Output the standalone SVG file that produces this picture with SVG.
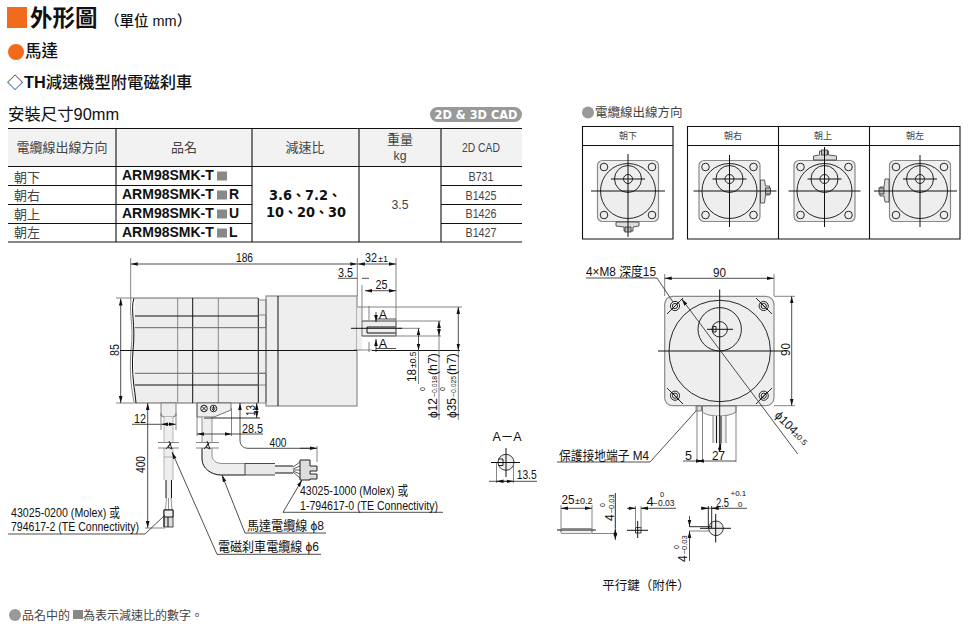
<svg xmlns="http://www.w3.org/2000/svg" width="971" height="629" viewBox="0 0 971 629">
<style>
text{font-family:"Liberation Sans","Noto Sans CJK TC",sans-serif;fill:#111}
.g{fill:#444}
.d{font-size:13px}
.t{font-size:12.500px;text-anchor:middle}
.b{font-weight:700}
.l{fill:none;stroke:#111;stroke-width:1}
.e{fill:none;stroke:#777;stroke-width:.9}
.h{fill:none;stroke:#111;stroke-width:.9}
.dim{fill:none;stroke:#222;stroke-width:.8;marker-start:url(#a);marker-end:url(#a)}
.lead{fill:none;stroke:#222;stroke-width:.8;marker-end:url(#a)}
.f{fill:#eee;stroke:#8a8a8a;stroke-width:1.2}
.c{fill:none;stroke:#111;stroke-width:.9}
.sq{fill:#888}
.tb{fill:none;stroke:#111;stroke-width:1.1}
</style>
<defs>
<marker id="a" markerUnits="userSpaceOnUse" markerWidth="7" markerHeight="5" refX="7" refY="2.5" orient="auto-start-reverse"><path d="M0 .7L7 2.5L0 4.3z" fill="#111"/></marker>
<g id="face">
<rect x="-30.5" y="-30.5" width="61" height="61" rx="5" class="f"/>
<circle r="27.5" class="c"/><circle cy="-12" r="13.5" class="c"/><circle cy="-12" r="4.5" class="c"/>
<circle cx="-24" cy="-24" r="3.8" class="c"/><circle cx="24" cy="-24" r="3.8" class="c"/><circle cx="-24" cy="24" r="3.8" class="c"/><circle cx="24" cy="24" r="3.8" class="c"/>
<path d="M-17-12H17" class="l"/>
</g>
<g id="plug">
<path d="M-12 31H11V35L5 36V40H-4V36L-12 35z" fill="#ddd" stroke="#333" stroke-width=".8"/>
<rect x="-3" y="36" width="6" height="5" fill="#bbb" stroke="#333" stroke-width=".8"/>
</g>
</defs>
<rect width="971" height="629" fill="#fff"/>

<g id="heading">
<rect x="7" y="7" width="20" height="21" fill="#f26a1b"/>
<text x="30" y="26" style="font-size:22.500px;font-weight:700">外形圖</text>
<text x="105" y="26" style="font-size:14.500px;font-weight:500">（單位 mm）</text>
<circle cx="16" cy="52" r="8" fill="#f26a1b"/>
<text x="25" y="57" style="font-size:16.500px;font-weight:500">馬達</text>
<text x="7" y="88" style="font-size:16px">◇</text>
<text x="24" y="88" style="font-size:16.300px;font-weight:700">TH<tspan style="font-weight:500">減速機型附電磁刹車</tspan></text>
<text x="8" y="120" style="font-size:16.400px">安裝尺寸90mm</text>
<rect x="430" y="107" width="92" height="15" rx="7.5" fill="#999"/>
<text x="476" y="119" text-anchor="middle" textLength="83" lengthAdjust="spacingAndGlyphs" style="font-family:'DejaVu Sans',sans-serif;font-size:12px;font-weight:700;fill:#fff">2D &amp; 3D CAD</text>
</g>

<g id="spec-table">
<rect x="8" y="128.500" width="514" height="38" fill="#f2f2f2"/>
<path class="tb" d="M8 128.500H522M8 166.500H522M8 185.500H252M8 204.500H252M8 223.500H252M8 242H522M441 185.500H522M441 204.500H522M441 223.500H522M116 128.500V242M252 128.500V242M359 128.500V242M441 128.500V242"/>
<text class="g" x="62" y="152" text-anchor="middle" style="font-size:13px">電纜線出線方向</text>
<text class="g" x="184" y="152" text-anchor="middle" style="font-size:13px">品名</text>
<text class="g" x="305" y="152" text-anchor="middle" style="font-size:13px">減速比</text>
<text class="g" x="400" y="144" text-anchor="middle" style="font-size:13px">重量</text>
<text class="g" x="400" y="160" text-anchor="middle" style="font-size:13px" textLength="13" lengthAdjust="spacingAndGlyphs">kg</text>
<text class="g" x="481" y="152" text-anchor="middle" textLength="38" lengthAdjust="spacingAndGlyphs" style="font-size:13.500px">2D CAD</text>
<text class="g" x="14" y="181.500" style="font-size:13px">朝下</text>
<text class="g" x="14" y="200" style="font-size:13px">朝右</text>
<text class="g" x="14" y="218.500" style="font-size:13px">朝上</text>
<text class="g" x="14" y="237" style="font-size:13px">朝左</text>
<text x="122" y="180" class="b" style="font-size:14px">ARM98SMK-T</text>
<rect x="217" y="171.500" width="10" height="9" class="sq"/>
<text x="122" y="199" class="b" style="font-size:14px">ARM98SMK-T</text>
<rect x="217" y="190.500" width="10" height="9" class="sq"/>
<text x="229" y="199" class="b" style="font-size:14px">R</text>
<text x="122" y="218" class="b" style="font-size:14px">ARM98SMK-T</text>
<rect x="217" y="209.500" width="10" height="9" class="sq"/>
<text x="229" y="218" class="b" style="font-size:14px">U</text>
<text x="122" y="237" class="b" style="font-size:14px">ARM98SMK-T</text>
<rect x="217" y="228.500" width="10" height="9" class="sq"/>
<text x="229" y="237" class="b" style="font-size:14px">L</text>
<text x="305" y="200" text-anchor="middle" style="font-family:'DejaVu Sans','Noto Sans CJK TC',sans-serif;font-size:13.500px;font-weight:700" textLength="72" lengthAdjust="spacingAndGlyphs">3.6、7.2、</text>
<text x="306" y="217" text-anchor="middle" style="font-family:'DejaVu Sans','Noto Sans CJK TC',sans-serif;font-size:13.500px;font-weight:700" textLength="80" lengthAdjust="spacingAndGlyphs">10、20、30</text>
<text class="g" x="400" y="208.500" text-anchor="middle" style="font-size:13px" textLength="17" lengthAdjust="spacingAndGlyphs">3.5</text>
<text class="g" x="481" y="181" text-anchor="middle" textLength="25" lengthAdjust="spacingAndGlyphs" style="font-size:13px">B731</text>
<text class="g" x="481" y="199.500" text-anchor="middle" textLength="31" lengthAdjust="spacingAndGlyphs" style="font-size:13px">B1425</text>
<text class="g" x="481" y="218" text-anchor="middle" textLength="31" lengthAdjust="spacingAndGlyphs" style="font-size:13px">B1426</text>
<text class="g" x="481" y="236.500" text-anchor="middle" textLength="31" lengthAdjust="spacingAndGlyphs" style="font-size:13px">B1427</text>
</g>

<g id="cable-directions">
<circle cx="588" cy="112.500" r="6" fill="#999"/>
<text class="g" x="595" y="117" style="font-size:12.500px">電纜線出線方向</text>
<path class="tb" d="M582.500 126.500H673V239H582.500zM582.500 145.500H673M687.500 126.500H960V239H687.500zM687.500 145.500H960M778.500 126.500V239M869.500 126.500V239"/>
<text class="g" x="628" y="139" text-anchor="middle" style="font-size:9px">朝下</text>
<text class="g" x="733" y="139" text-anchor="middle" style="font-size:9px">朝右</text>
<text class="g" x="823" y="139" text-anchor="middle" style="font-size:9px">朝上</text>
<text class="g" x="915" y="139" text-anchor="middle" style="font-size:9px">朝左</text>
<g id="dir-down" transform="translate(628 191)"><use href="#face"/><use href="#plug"/><path class="l" d="M-37 0H37M0-37V46"/></g>
<g id="dir-right" transform="translate(729.500 191)"><use href="#face"/><use href="#plug" transform="rotate(-90)"/><path class="l" d="M-36 0H47M0-36V36"/></g>
<g id="dir-up" transform="translate(824.500 191)"><use href="#face"/><use href="#plug" transform="rotate(180)"/><path class="l" d="M-36 0H36M0-44V36"/></g>
<g id="dir-left" transform="translate(920 191)"><use href="#face"/><use href="#plug" transform="rotate(90)"/><path class="l" d="M-46 0H37M0-36V36"/></g>
</g>

<g id="side-view">
<path d="M135 298H258V403H135C131 390 136 370 133 350C131 325 136 310 135 298z" fill="#eee"/>
<path d="M258 300H266V402H258z" fill="#eee"/>
<rect x="266" y="296" width="91" height="110" class="f"/>
<path d="M357 307H362V350H357z" fill="#eee"/>
<path d="M362 321H396V336H362z" fill="#eee" stroke="#333" stroke-width=".7"/>
<path d="M367 327H396M367 333H396M367 327V333" class="l" stroke-width=".8"/>
<path d="M135 298H258M135 403H258" fill="none" stroke="#666" stroke-width="1"/>
<path d="M134 298C130 310 136 325 133 350C131 375 135 390 136 403" class="l" stroke-width="1.2"/>
<path d="M131 300C129 315 134 325 131 350C129 375 132 392 134 402" fill="none" stroke="#555" stroke-width=".7"/>
<path d="M177.700 298V403M218.300 298V403" fill="none" stroke="#888" stroke-width="1"/>
<path d="M192.700 298V403M258.300 298V403M278 296V406" class="l"/>
<path d="M135 316H258M135 385H258" class="l"/>
<path d="M135 327.700H266M135 373.300H266" fill="none" stroke="#666" stroke-width="1"/>
<path d="M258 300H266V403H258M258 315H266V327.700M258 373.300H266V385M258 385H266V402" fill="none" stroke="#777" stroke-width=".9"/>
<path d="M197 403H231V410L214 417H197z" fill="#eee" stroke="#555" stroke-width=".8"/>
<circle cx="204" cy="408.500" r="3.300" class="c"/><path d="M201.700 406.200L206.300 410.800M206.300 406.200L201.700 410.800" class="h" stroke-width=".6"/>
<circle cx="213.500" cy="408.500" r="3.300" class="c"/><path d="M211.500 408H215.500M212 409.300H215M213 410.500H214M213.500 406V408" class="h" stroke-width=".6"/>
<path d="M161 403H176V416H174V417H163V416H161z" fill="#eee" stroke="#666" stroke-width=".8"/>
</g>

<g id="brake-cable">
<path d="M164 417H173V443H164zM164 448H173V480H164z" fill="#eee"/>
<path d="M164 417V443M173 417V443M164 448V480M173 448V480M164 457H173" fill="none" stroke="#999" stroke-width=".7"/>
<path d="M166 480H171.500V498H166z" fill="#eee"/>
<path d="M166 480V498M171.500 480V498" class="l" stroke-width="1.2"/>
<path d="M166.500 498L165.500 510M168.500 498V510M171 498L172 510" fill="none" stroke="#666" stroke-width=".7"/>
<rect x="164" y="510" width="9" height="17" fill="#ddd" stroke="#222" stroke-width=".8"/>
<path d="M164 510H173V517H164z" fill="#eee" stroke="#111" stroke-width="1"/>
<path d="M164 517V527M168 517V527" class="l" stroke-width=".8"/>
</g>

<g id="motor-cable">
<path d="M202 417H212V443H202zM202 448H212V456C212 460 216 463.500 222 463.500H245V475H221C211 475 202 468 202 459z" fill="#eee"/>
<path d="M212 417V443M202 417V443M212 448V456C212 460 216 463.500 222 463.500H245" fill="none" stroke="#777" stroke-width=".8"/>
<path d="M202 448V459C202 468 211 475 221 475H245" class="l" stroke-width="1.1"/>
<path d="M245 463.500H275V475H245z" fill="#e8e8e8"/>
<path d="M245 463.500V475M245 463.500H275M245 475H275" fill="none" stroke="#333" stroke-width=".9"/>
<path d="M275 466H293V473H275z" fill="#eee"/>
<path d="M275 466H293M275 473H293" class="l" stroke-width="1.1"/>
<path d="M293 467L300 462M293 469L300 466M293 470L300 470M293 471L300 474M293 472L300 478" fill="none" stroke="#333" stroke-width=".8"/>
<path d="M300 460H310V466H317V471H310V474H317V479H310V480H300z" fill="#ddd" stroke="#222" stroke-width="1"/>
</g>

<g id="front-view">
<rect x="664.700" y="296.300" width="109.300" height="109.400" rx="8" class="f"/>
<circle cx="719.700" cy="351" r="50.700" class="c"/>
<circle cx="719.700" cy="329.300" r="21.700" class="c"/>
<circle cx="719.700" cy="329.300" r="7.700" class="c"/>
<path d="M713 326.500H716V332H713z" class="c" stroke-width=".7"/>
<g id="holes" class="c">
<circle cx="675" cy="306" r="4.600"/><circle cx="675" cy="306" r="2.600"/><path d="M671 310L679 302M667 314L683 298"/>
<circle cx="763.700" cy="306" r="4.600"/><circle cx="763.700" cy="306" r="2.600"/><path d="M759.700 302L767.700 310M756 298L772 314"/>
<circle cx="675" cy="395.700" r="4.600"/><circle cx="675" cy="395.700" r="2.600"/><path d="M671 391.700L679 399.700M667 388L683 404"/>
<circle cx="763.700" cy="395.700" r="4.600"/><circle cx="763.700" cy="395.700" r="2.600"/><path d="M759.700 399.700L767.700 391.700M756 404L772 388"/>
</g>
<path d="M702.500 406H736V412C732 415 725 416 719 416C712 416 706 415 702.500 412z" fill="#eee" stroke="#666" stroke-width=".8"/>
<path d="M696 406H701.500V411H696z" fill="#ddd" stroke="#555" stroke-width=".7"/>
<path d="M713 416H726V443H713z" fill="#eee"/>
<path d="M713 416V443M726 416V443" fill="none" stroke="#777" stroke-width=".9"/>
<path d="M716.500 416V443M721 416V443" class="l" stroke-width=".9"/>
<path d="M658 351H783M719.700 289.500V452M707 329.300H733" class="l"/>
</g>

<g id="section-a-a">
<circle cx="506" cy="462.300" r="8" fill="#eee" stroke="#222" stroke-width=".9"/>
<path d="M498.500 459H503V465.500H498.500" class="c" stroke-width=".7"/>
<path d="M491 462.500H520M506 448V477" class="l"/>
</g>

<g id="parallel-key">
<rect x="561" y="528.500" width="31" height="5" rx="1" fill="#eee" stroke="#777" stroke-width=".8"/>
<path d="M557 530H596" class="l"/>
<rect x="635.500" y="527.500" width="5.500" height="5.500" fill="#eee" stroke="#222" stroke-width=".8"/>
<path d="M627 530.300H648M637.700 521V538" class="l"/>
<circle cx="716" cy="528.300" r="7.300" fill="#eee" stroke="#222" stroke-width=".9"/>
<path d="M700 528.300H731M715.700 514V542.500" class="l"/>
</g>

<g id="connectors">
<path class="e" d="M130.700 258V300M357.300 258V296M396 258V336M362 285V321M369 320V306M369 352V342M357 307H462M362 321H441M362 336H441M398 328.300H420M354 350H372M116 298H135M116 403H135"/>
<path class="dim" d="M130.700 264H357.300"/>
<path class="dim" d="M357.800 264H396"/>
<path fill="none" stroke="#222" stroke-width=".8" d="M338 278.300H357.300M362 278.300H369"/>
<path class="dim" d="M365 290.700H396"/>
<path class="dim" d="M120.700 298.500V403"/>
<path class="l" d="M120 350.500H357M372 350.500H460"/>
<path class="l" d="M351 328.300H402" stroke-width=".9"/>
<path fill="none" stroke="#222" stroke-width=".8" d="M376 319H396M376 348.500H396"/>
<path class="lead" d="M376 312V322"/>
<path class="lead" d="M376 352V339"/>
<path class="dim" d="M418.500 328.300V350.500"/>
<path class="e" d="M418.500 350.500V384"/>
<path class="dim" d="M439 321V336"/>
<path class="e" d="M439 336V420"/>
<path class="dim" d="M458.300 307V350.500"/>
<path class="e" d="M458.300 350.500V420"/>
<path class="dim" d="M147.700 403V528"/>
<path class="e" d="M145 528H165"/>
<path fill="none" stroke="#222" stroke-width=".8" d="M132 424.300H161"/>
<path class="dim" d="M161 424.300H176"/>
<path class="e" d="M161 413V430M176 413V430"/>
<path class="e" d="M197 403V436M231.500 408V436"/>
<path class="dim" d="M197 434H231.500"/>
<path fill="none" stroke="#222" stroke-width=".8" d="M231.500 434H263"/>
<path class="h" stroke-width=".8" d="M204 418H260"/>
<path class="dim" d="M256.700 403V418"/>
<path class="lead" d="M317 448.300H248C243 448.300 240 445 240 440V403"/>
<path class="lead" d="M300 448.300H317"/>
<path class="e" d="M317 446V462"/>
<path class="e" d="M158 442.500H179M158 448H179M196 442.500H219M196 448H219" stroke-width="1"/>
<path class="h" d="M166 449L171 443L168 447L172 449L169 441M204 449L209 443L206 447L210 449L207 441" stroke-width=".8"/>
<path fill="none" stroke="#222" stroke-width=".8" d="M8 534H145L165 515"/>
<path fill="none" stroke="#222" stroke-width=".8" d="M283 512.300H443"/>
<path class="lead" d="M283 512.300L302 480"/>
<path fill="none" stroke="#222" stroke-width=".8" d="M245 533H326"/>
<path class="lead" d="M245 533L222 475"/>
<path fill="none" stroke="#222" stroke-width=".8" d="M217 554.300H321"/>
<path class="lead" d="M217 554.300L172 452"/>

<path class="e" d="M664.700 274V296M774 274V296M774 296.300H795M774 405.700H795M697 406V462M702.500 406V462M736 406V462"/>
<path class="dim" d="M664.700 278.300H774"/>
<path class="dim" d="M791.700 296.300V405.700"/>
<path fill="none" stroke="#222" stroke-width=".8" d="M586 278H657L673 302"/>
<path class="lead" d="M797.700 454L681.700 299"/>
<path fill="none" stroke="#222" stroke-width=".8" d="M557 462H650L696 411"/>
<path class="dim" d="M697 461H702.500"/>
<path fill="none" stroke="#222" stroke-width=".8" d="M683 461H697M702.500 461H736"/>
<path class="lead" d="M719 452L721 443"/>

<path class="e" d="M496.500 463V483M513.500 463V483"/>
<path fill="none" stroke="#222" stroke-width=".8" d="M489 481.300H537"/>
<path class="dim" d="M496.500 481.300H513.500"/>
<path class="e" d="M561 505V532M592 505V532M592 533.500H617"/>
<path class="dim" d="M561 508.300H592"/>
<path class="dim" d="M615.300 528.500V540"/>
<path class="h" stroke-width=".8" d="M615.300 493V528.500"/>
<path class="e" d="M635.500 506V528M641 506V528"/>
<path fill="none" stroke="#222" stroke-width=".8" d="M627 508.300H635.500M641 508.300H676"/>
<path class="lead" d="M628 508.300H635.500"/>
<path class="lead" d="M648 508.300H641"/>
<path class="h" d="M708.300 506V528M711.700 506V528"/>
<path fill="none" stroke="#222" stroke-width=".8" d="M701 508.300H747"/>
<path class="lead" d="M701 508.300H708.300"/>
<path class="lead" d="M718 508.300H711.700"/>
<path class="h" d="M689 526.700H712"/>
<path class="e" d="M689 531H710"/>
<path class="lead" d="M689.500 516V526.700"/>
<path class="lead" d="M689.500 561V531"/>
</g>

<g id="dimension-labels">
<text class="d" x="236" y="262" textLength="17" lengthAdjust="spacingAndGlyphs">186</text>
<text class="d" x="365" y="262" textLength="12" lengthAdjust="spacingAndGlyphs">32</text>
<text x="378" y="262" style="font-size:9px" textLength="10" lengthAdjust="spacingAndGlyphs">±1</text>
<text class="d" x="338" y="277" textLength="15" lengthAdjust="spacingAndGlyphs">3.5</text>
<text class="d" x="375.500" y="289" textLength="12" lengthAdjust="spacingAndGlyphs">25</text>
<text x="383" y="319" class="t">A</text>
<text x="383" y="348" class="t">A</text>
<text class="d" transform="translate(118.500 356) rotate(-90)" textLength="12" lengthAdjust="spacingAndGlyphs">85</text>
<text transform="translate(416 382) rotate(-90)" style="font-size:13px" textLength="13" lengthAdjust="spacingAndGlyphs">18</text>
<text transform="translate(416 368) rotate(-90)" style="font-size:8.500px">±0.5</text>
<text transform="translate(437 418) rotate(-90)" style="font-size:13px" textLength="20" lengthAdjust="spacingAndGlyphs">ϕ12</text>
<text transform="translate(437 397) rotate(-90)" style="font-size:7.500px" textLength="21" lengthAdjust="spacingAndGlyphs">−0.018</text>
<text transform="translate(437 375) rotate(-90)" style="font-size:13px" textLength="22" lengthAdjust="spacingAndGlyphs">(h7)</text>
<text transform="translate(425 391) rotate(-90)" style="font-size:7px">0</text>
<text transform="translate(456 418) rotate(-90)" style="font-size:13px" textLength="20" lengthAdjust="spacingAndGlyphs">ϕ35</text>
<text transform="translate(456 397) rotate(-90)" style="font-size:7.500px" textLength="21" lengthAdjust="spacingAndGlyphs">−0.025</text>
<text transform="translate(456 375) rotate(-90)" style="font-size:13px" textLength="22" lengthAdjust="spacingAndGlyphs">(h7)</text>
<text transform="translate(445 391) rotate(-90)" style="font-size:7px">0</text>
<text class="d" x="134" y="423" textLength="12" lengthAdjust="spacingAndGlyphs">12</text>
<text class="d" transform="translate(145 473) rotate(-90)" textLength="17" lengthAdjust="spacingAndGlyphs">400</text>
<text class="d" transform="translate(255 416) rotate(-90)" textLength="11" lengthAdjust="spacingAndGlyphs">13</text>
<text class="d" x="242" y="433" textLength="21" lengthAdjust="spacingAndGlyphs">28.5</text>
<text class="d" x="269.500" y="446.500" textLength="17" lengthAdjust="spacingAndGlyphs">400</text>
<text class="d" x="300" y="495" textLength="108" lengthAdjust="spacingAndGlyphs">43025-1000 (Molex) 或</text>
<text class="d" x="300" y="510" textLength="138" lengthAdjust="spacingAndGlyphs">1-794617-0 (TE Connectivity)</text>
<text class="d" x="11" y="517" textLength="109" lengthAdjust="spacingAndGlyphs">43025-0200 (Molex) 或</text>
<text class="d" x="11" y="531" textLength="128" lengthAdjust="spacingAndGlyphs">794617-2 (TE Connectivity)</text>
<text class="d" x="247" y="530" textLength="77" lengthAdjust="spacingAndGlyphs">馬達電纜線 ϕ8</text>
<text class="d" x="218" y="551" textLength="101" lengthAdjust="spacingAndGlyphs">電磁刹車電纜線 ϕ6</text>
<text class="d" x="586" y="276" textLength="70" lengthAdjust="spacingAndGlyphs">4×M8 深度15</text>
<text class="d" x="713" y="276.500" textLength="13" lengthAdjust="spacingAndGlyphs">90</text>
<text class="d" transform="translate(790 356) rotate(-90)" textLength="13" lengthAdjust="spacingAndGlyphs">90</text>
<text transform="translate(774 416) rotate(45)" style="font-size:12px">ϕ104<tspan style="font-size:8px">±0.5</tspan></text>
<text class="d" x="559" y="459.500" textLength="90" lengthAdjust="spacingAndGlyphs">保護接地端子 M4</text>
<text class="d" x="685" y="460" textLength="7" lengthAdjust="spacingAndGlyphs">5</text>
<text class="d" x="712" y="460" textLength="13" lengthAdjust="spacingAndGlyphs">27</text>
<text x="507" y="441" class="t">A－A</text>
<text class="d" x="516.700" y="479" textLength="20" lengthAdjust="spacingAndGlyphs">13.5</text>
<text class="d" x="561.500" y="504" textLength="13" lengthAdjust="spacingAndGlyphs">25</text>
<text x="575" y="504" style="font-size:9px">±0.2</text>
<text transform="translate(614 521) rotate(-90)" style="font-size:12px">4<tspan style="font-size:7.500px" dx="1">−0.03</tspan></text>
<text transform="translate(605 507) rotate(-90)" style="font-size:7px">0</text>
<text class="d" x="646.500" y="506">4</text>
<text x="653" y="506" style="font-size:8.500px">−0.03</text>
<text x="660" y="497" style="font-size:7.500px">0</text>
<text class="d" x="716" y="506.500" textLength="13" lengthAdjust="spacingAndGlyphs">2.5</text>
<text x="730.500" y="496" style="font-size:8px">+0.1</text>
<text x="738" y="506.500" style="font-size:8px">0</text>
<text transform="translate(687 562) rotate(-90)" style="font-size:12px">4<tspan style="font-size:7.500px" dx="1">−0.03</tspan></text>
<text transform="translate(679 549) rotate(-90)" style="font-size:7px">0</text>
<text x="646" y="590" text-anchor="middle" style="font-size:12.500px">平行鍵（附件）</text>
</g>

<g id="footnote">
<circle cx="15" cy="615" r="6" fill="#999"/>
<text class="g" x="22" y="620" style="font-size:12px">品名中的</text>
<rect x="73" y="610" width="10" height="9" class="sq"/>
<text class="g" x="83" y="620" style="font-size:12px">為表示減速比的數字。</text>
</g>
</svg>
